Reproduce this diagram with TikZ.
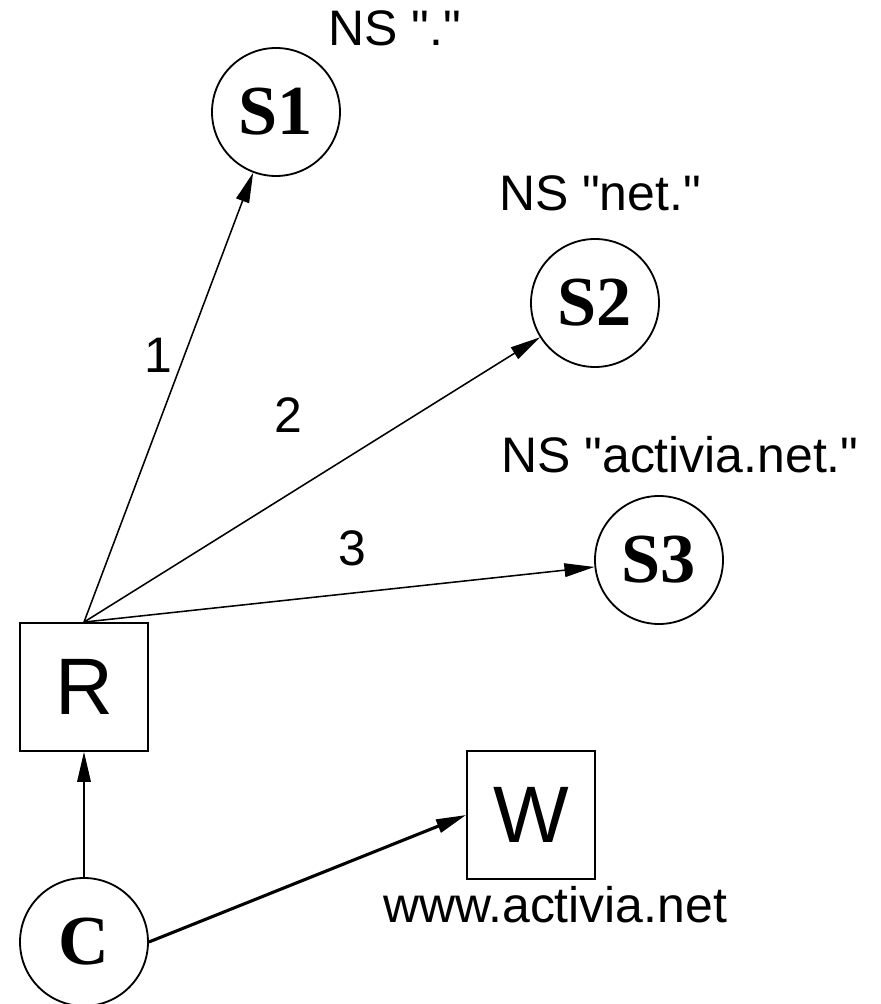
\documentclass[tikz,border=0pt]{standalone}
\usepackage{fontspec}
\setmainfont{Liberation Sans}
\newfontfamily\srvfont{Liberation Serif}
\usetikzlibrary{arrows.meta}
\tikzset{
  srv/.style={draw,circle,line width=1.3pt,minimum size=3.2cm,inner sep=0pt,font=\srvfont\bfseries\fontsize{50}{50}\selectfont},
  hostbox/.style={draw,rectangle,line width=1.3pt,minimum size=3.2cm,inner sep=0pt,font=\fontsize{57}{57}\selectfont},
  lbl/.style={font=\fontsize{35.5}{36}\selectfont},
  arr/.style={-{Triangle[length=0.75cm,width=0.34cm]},line width=1.1pt}
}
\newcommand\qq{\textquotedbl}
\begin{document}
\begin{tikzpicture}
\useasboundingbox(0,0)rectangle(22.025,25.1);
% servers
\node[srv](S1)at(6.9,22.3){S1};
\node[srv](S2)at(14.875,17.525){S2};
\node[srv](S3)at(16.475,11.1){S3};
\node[lbl](ns1)at(9.875,24.4){NS \qq.\qq};
\node[lbl](ns2)at(15,20.275){NS \qq net.\qq};
\node[lbl](ns3)at(17,13.725){NS \qq activia.net.\qq};
%
\node[hostbox](R)at(2.1,7.925){R};
\node[hostbox](W)at(13.275,4.725){W};
\node[srv](C)at(2.1,1.55){C};
\node[lbl](www)at(13.875,2.475){www.activia.net};
%
\node[lbl](n1)at(3.95,16.225){1};
\node[lbl](n2)at(7.2,14.725){2};
\node[lbl](n3)at(8.8,11.4){3};
\draw[arr](R.north)--(S1);
\draw[arr](R.north)--(S2);
\draw[arr](R.north)--(S3);
\draw[arr](C)--(R);
\draw[arr,line width=2.2pt](C.east)--(W.west);
\end{tikzpicture}
\end{document}
